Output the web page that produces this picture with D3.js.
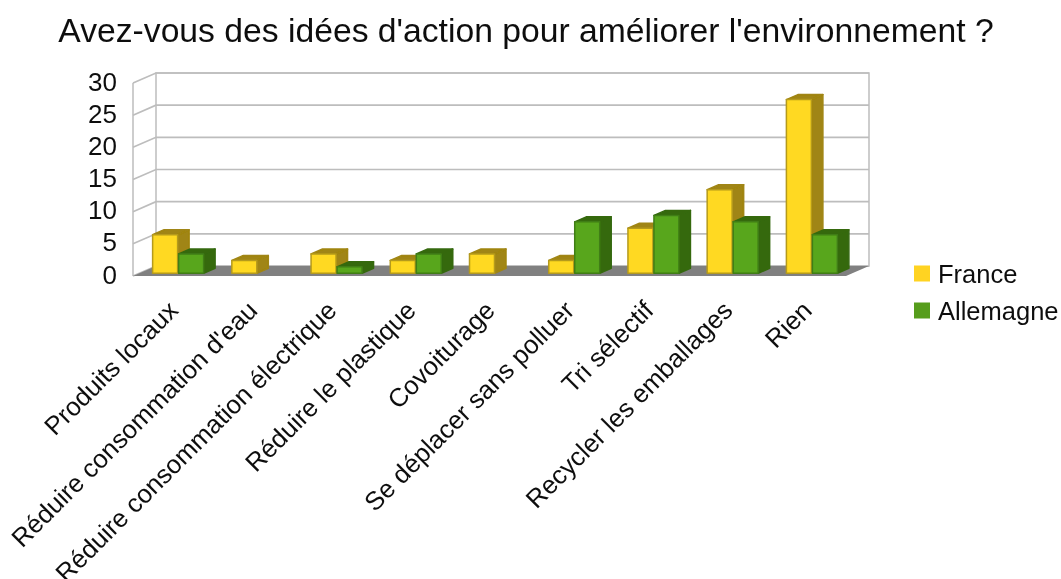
<!DOCTYPE html>
<html><head><meta charset="utf-8">
<script src="https://cdn.jsdelivr.net/npm/d3@7"></script>
<style>html,body{margin:0;padding:0;background:#fff}svg{display:block}text{font-family:"Liberation Sans",Arial,sans-serif;fill:#111}</style>
</head><body><svg id="c" width="1061" height="579"><defs><filter id="soft" x="0" y="0" width="100%" height="100%"><feGaussianBlur stdDeviation="0.45"/></filter></defs></svg>
<script>
const title = "Avez-vous des idées d'action pour améliorer l'environnement ?";
const categories = ["Produits locaux","Réduire consommation d'eau","Réduire consommation électrique","Réduire le plastique","Covoiturage","Se déplacer sans polluer","Tri sélectif","Recycler les emballages","Rien"];
const france = [6,2,3,2,3,2,7,13,27];
const allemagne = [3,0,1,3,0,8,9,8,6];
const seriesNames = ["France","Allemagne"];
const yTicks = [0,5,10,15,20,25,30];

const svg = d3.select("#c").append("g").attr("filter","url(#soft)");
const left=133, right=846, front=276, top_=83, wallDx=23, wallDy=10;
const x = d3.scaleBand().domain(categories).range([left,right]);
const y = d3.scaleLinear().domain([0,30]).range([front,top_]);
const inner = d3.scaleBand().domain(seriesNames).range([0,52]);
const colors = {France:{front:"#ffd920",side:"#a08512",edge:"#b59a1c",leg:"#ffd320"},
                Allemagne:{front:"#58a61e",side:"#356910",edge:"#3f7d14",leg:"#579d1c"}};
const grid="#bdbdbd";
const pts=a=>a.map(p=>p.join(",")).join(" ");

// walls
svg.append("rect").attr("x",0).attr("y",0).attr("width",1061).attr("height",579).attr("fill","#fff");
svg.append("rect").attr("x",left+wallDx).attr("y",y(30)-wallDy).attr("width",right-left).attr("height",y(0)-y(30)).attr("fill","none").attr("stroke",grid).attr("stroke-width",1.5);
svg.append("g").selectAll("polyline").data(yTicks).join("polyline")
  .attr("points",d=>pts([[left,y(d)],[left+wallDx,y(d)-wallDy],[right+wallDx,y(d)-wallDy]]))
  .attr("fill","none").attr("stroke",grid).attr("stroke-width",1.7);
svg.append("line").attr("x1",left).attr("x2",left).attr("y1",y(30)).attr("y2",y(0)).attr("stroke",grid).attr("stroke-width",1.5);
svg.append("polygon").attr("points",pts([[left,front],[left+wallDx,front-wallDy],[right+wallDx,front-wallDy],[right,front]])).attr("fill","#808080");

// bars
const offX=6, offY=2.7, dX=11.5, dY=5;
const rows=[];
categories.forEach((c,i)=>{rows.push({c,s:"France",v:france[i]});rows.push({c,s:"Allemagne",v:allemagne[i]});});
const bars=svg.append("g").selectAll("g").data(rows.filter(d=>d.v>0)).join("g").attr("stroke-linejoin","round");
const bx=d=>x(d.c)+offX+(x.bandwidth()-52)/2+inner(d.s);
const by=d=>y(d.v)-offY;
const bw=inner.bandwidth()-1;
const base=y(0)-offY;
bars.append("polygon").attr("points",d=>pts([[bx(d)+bw,by(d)],[bx(d)+bw+dX,by(d)-dY],[bx(d)+bw+dX,base-dY],[bx(d)+bw,base]]))
  .attr("fill",d=>colors[d.s].side).attr("stroke",d=>colors[d.s].side).attr("stroke-width",1.5);
bars.append("polygon").attr("points",d=>pts([[bx(d),by(d)],[bx(d)+dX,by(d)-dY],[bx(d)+bw+dX,by(d)-dY],[bx(d)+bw,by(d)]]))
  .attr("fill",d=>colors[d.s].side).attr("stroke",d=>colors[d.s].side).attr("stroke-width",1.5);
bars.append("rect").attr("x",bx).attr("y",by).attr("width",bw).attr("height",d=>base-by(d))
  .attr("fill",d=>colors[d.s].front).attr("stroke",d=>colors[d.s].edge).attr("stroke-width",1.5);

// y axis
const axis=svg.append("g").attr("transform",`translate(${left-13},0)`)
  .call(d3.axisLeft(y).tickValues(yTicks).tickSize(0).tickPadding(3));
axis.select(".domain").remove();
axis.selectAll("text").style("font-family",'"Liberation Sans",Arial,sans-serif').style("font-size","26px").attr("dy","0.27em").attr("fill","#111");

// x labels
svg.append("g").selectAll("text").data(categories).join("text")
  .attr("text-anchor","end").attr("font-size","25.8px")
  .attr("transform",d=>`translate(${x(d)+x.bandwidth()/2+7},${front+36}) rotate(-45)`)
  .text(d=>d);

// title
svg.append("text").attr("x",526).attr("y",41.5).attr("text-anchor","middle").attr("font-size","33.7px").text(title);

// legend
const leg=svg.append("g").selectAll("g").data(seriesNames).join("g").attr("transform",(d,i)=>`translate(914,${265.5+i*37})`);
leg.append("rect").attr("width",16).attr("height",16).attr("fill",d=>colors[d].leg);
leg.append("text").attr("x",24).attr("y",17).attr("font-size","25.5px").text(d=>d);
</script></body></html>
